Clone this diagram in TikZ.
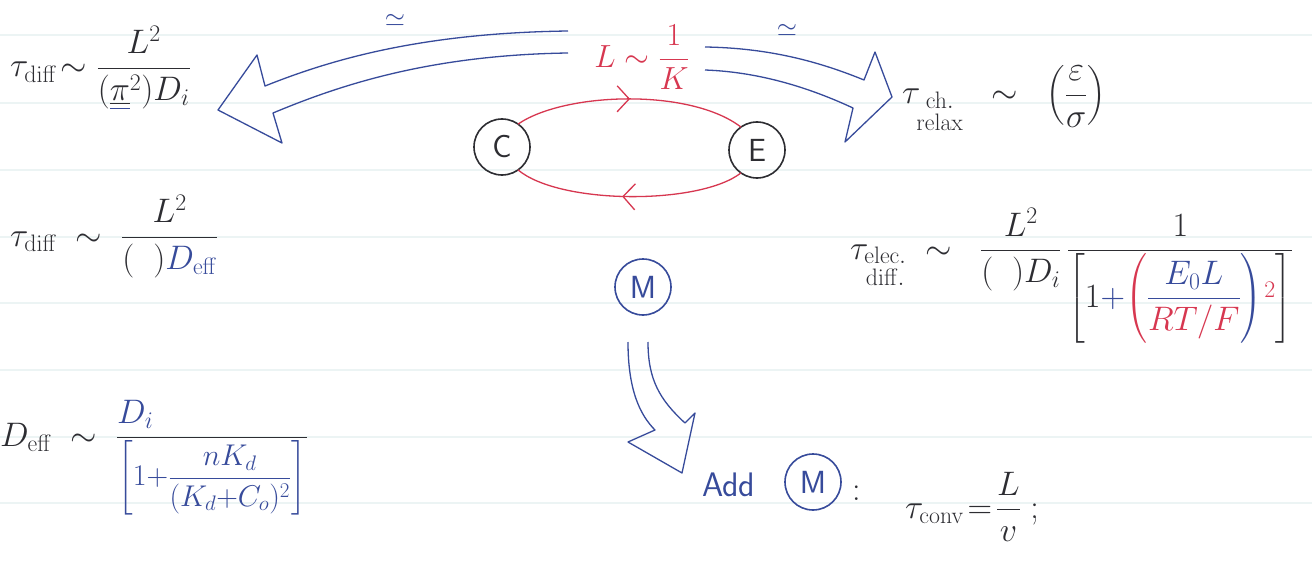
\RequirePackage{fix-cm}
\documentclass[tikz,border=0pt]{standalone}
\usepackage{amsmath}
\usetikzlibrary{arrows.meta,decorations.markings}
\definecolor{inkblk}{RGB}{45,45,50}
\definecolor{inkblu}{RGB}{55,75,155}
\definecolor{inkred}{RGB}{215,55,80}
\definecolor{paperrule}{RGB}{236,244,244}
\begin{document}
\begin{tikzpicture}[x=1pt,y=-1pt,
  every node/.style={inner sep=0pt,outer sep=0pt,text=inkblk},
  txt/.style={font=\fontsize{34}{40}\selectfont},
  stxt/.style={font=\fontsize{26}{30}\selectfont},
  circ/.style={circle,draw=inkblk,line width=1.6pt,minimum size=56pt,
    font=\fontsize{32}{36}\selectfont\sffamily},
  bcirc/.style={circ,draw=inkblu,text=inkblu},
  fat/.style={draw=inkblu,line width=1.3pt,line join=round},
  loopline/.style={draw=inkred,line width=1.3pt},
  midarrow/.style={postaction={decorate},decoration={markings,
    mark=at position #1 with {\arrow[inkred,line width=1.3pt]{Straight Barb[length=12pt,width=26pt]}}}}]
\useasboundingbox (0,0) rectangle (1312,567);
\fill[white] (0,0) rectangle (1312,567);
\foreach \yy in {35,103,170,237,303,370,437,503}
  \draw[paperrule,line width=1.2pt] (0,\yy) -- (1312,\yy);

% centre relation
\node[font=\fontsize{32}{38}\selectfont,text=inkred] (Lk) at (642,57) {$L\sim\dfrac{1}{K}$};
\node[circ] (C) at (502,147) {C};
\node[circ] (E) at (757,150) {E};
\draw[loopline,midarrow=0.5] (C.55) .. controls (565,92) and (690,88) .. (E.125);
\draw[loopline,midarrow=0.53] (E.235) .. controls (700,205) and (560,205) .. (C.-55);

% left hollow arrow
\coordinate (lu) at (568,31);
\coordinate (ll) at (568,53);
\coordinate (ltip) at (218,110);
\draw[fat] (lu) .. controls (420,33) and (330,60) .. (265,86) -- (257,55) -- (ltip)
  -- (282,143) -- (273,113) .. controls (340,85) and (430,55) .. (ll);
\node[stxt,text=inkblu] (simL) at (395,20) {$\simeq$};

% right hollow arrow
\coordinate (ru) at (705,47);
\coordinate (rl) at (705,70);
\coordinate (rtip) at (892,97);
\draw[fat] (ru) .. controls (770,48) and (820,62) .. (864,80) -- (875,52) -- (rtip)
  -- (845,142) -- (853,108) .. controls (810,88) and (760,72) .. (rl);
\node[stxt,text=inkblu] (simR) at (787,30) {$\simeq$};

% top-left formula
\node[txt,anchor=base west] (tdA) at (10,77)
  {$\tau_{\mathrm{diff}}\!\sim\dfrac{L^2}{({\color{inkblu}\underline{\underline{\color{inkblk}\pi}}}^2)D_i}$};

% top-right formula
\node[txt,anchor=base west] (tch) at (902,104)
  {$\tau_{\substack{\mathrm{ch.}\\[2pt] \mathrm{relax}}}\;\;\sim\;\;\left(\dfrac{\varepsilon}{\sigma}\right)$};

% middle-left formula
\node[txt,anchor=base west] (tdB) at (10,246)
  {$\tau_{\mathrm{diff}}\;\sim\;\dfrac{L^2}{(\;\;){\color{inkblu}D_{\mathrm{eff}}}}$};

% middle-right formula
\node[txt,anchor=base west] (tel) at (850,259)
  {$\tau_{\substack{\mathrm{elec.}\\[2pt] \mathrm{diff.}}}\;\sim\;\;\dfrac{L^2}{(\;\;)D_i}\,
   \dfrac{1}{\left[1{\color{inkblu}+}{\color{inkred}\left(\color{inkblu}\dfrac{E_0L}{\color{inkred}RT/F}\right)^{\!2}}\right]}$};

% bottom-left formula
\node[txt,anchor=base west] (deff) at (0,446)
  {$D_{\mathrm{eff}}\;\sim\;\dfrac{\makebox[190pt][l]{\color{inkblu}$D_i$}}
   {\mbox{\fontsize{30}{36}\selectfont\color{inkblu}$\displaystyle\left[1{+}\dfrac{nK_d}{(K_d{+}C_o)^2}\right]$}}$};

% M and convection
\node[bcirc] (M) at (643,287) {M};
\coordinate (dl) at (628,342);
\coordinate (dr) at (648,342);
\coordinate (dtip) at (682,473);
\draw[fat] (dl) .. controls (628,390) and (640,415) .. (655,430) -- (628,442) -- (dtip)
  -- (695,413) -- (685,423) .. controls (660,400) and (648,380) .. (dr);
\node[anchor=base west,text=inkblu,font=\fontsize{34}{40}\selectfont\sffamily] (add) at (702,496) {Add};
\node[bcirc] (M2) at (813,482) {M};
\node[txt,anchor=base west] (col) at (852,500) {:};
\node[txt,anchor=base west] (tcv) at (905,518)
  {$\tau_{\mathrm{conv}}\!=\!\dfrac{L}{v}\;;$};
\end{tikzpicture}
\end{document}
